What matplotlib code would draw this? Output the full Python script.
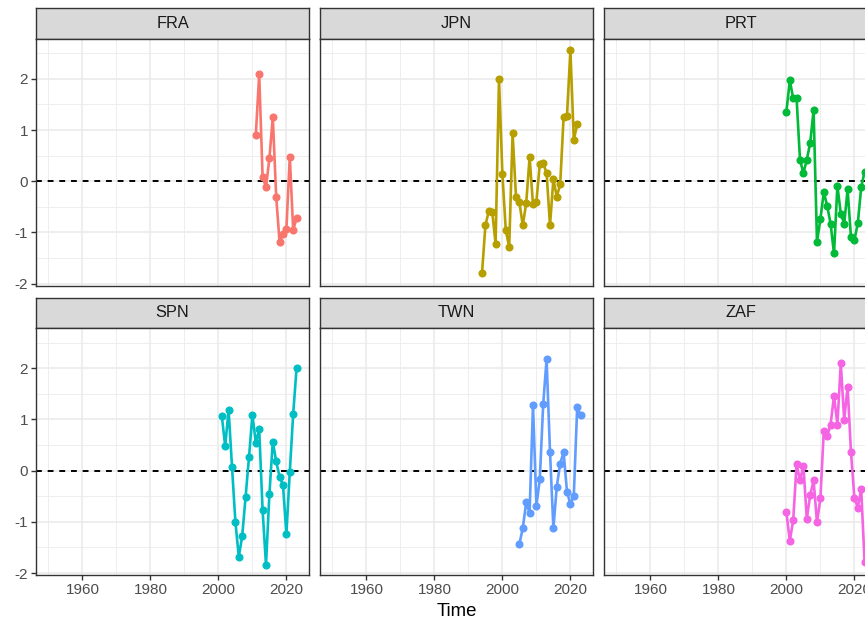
import matplotlib
matplotlib.use("Agg")
import matplotlib.pyplot as plt
from matplotlib.ticker import MultipleLocator

plt.rcParams["font.family"] = ["Liberation Sans", "DejaVu Sans"]
plt.rcParams["axes.unicode_minus"] = False

# facets, in the order they are drawn (3 per row)
countries = ["FRA", "JPN", "PRT", "SPN", "TWN", "ZAF"]
colors = ["#F8766D", "#B79F00", "#00BA38", "#00BFC4", "#619CFF", "#F564E3"]

fra_years = list(range(2011, 2024))
fra_values = [0.90, 2.09, 0.09, -0.12, 0.45, 1.25, -0.30, -1.19, -1.03, -0.93,
              0.48, -0.95, -0.72]

jpn_years = list(range(1994, 2023))
jpn_values = [-1.80, -0.86, -0.58, -0.59, -1.22, 1.99, 0.14, -0.96, -1.28, 0.94,
              -0.30, -0.41, -0.86, -0.43, 0.47, -0.45, -0.40, 0.34, 0.35, 0.16,
              -0.86, 0.04, -0.30, -0.06, 1.25, 1.28, 2.56, 0.81, 1.11]

prt_years = list(range(2000, 2024))
prt_values = [1.36, 1.97, 1.62, 1.62, 0.42, 0.16, 0.42, 0.75, 1.39, -1.18,
              -0.74, -0.21, -0.48, -0.83, -1.41, -0.09, -0.63, -0.83, -0.16, -1.09,
              -1.15, -0.82, -0.12, 0.19]

spn_years = list(range(2001, 2024))
spn_values = [1.07, 0.48, 1.19, 0.08, -1.00, -1.68, -1.28, -0.51, 0.26, 1.09,
              0.55, 0.81, -0.77, -1.84, -0.46, 0.57, 0.18, -0.12, -0.28, -1.24,
              -0.02, 1.11, 2.01]

twn_years = list(range(2005, 2024))
twn_values = [-1.43, -1.12, -0.62, -0.82, 1.28, -0.68, -0.17, 1.30, 2.18, 0.37,
              -1.12, -0.31, 0.14, 0.36, -0.41, -0.65, -0.49, 1.24, 1.08]

zaf_years = list(range(2000, 2024))
zaf_values = [-0.81, -1.37, -0.97, 0.13, -0.19, 0.10, -0.94, -0.48, -0.19, -1.01,
              -0.54, 0.78, 0.68, 0.90, 1.46, 0.90, 2.10, 0.99, 1.64, 0.36,
              -0.53, -0.72, -0.36, -1.79]

series = [(fra_years, fra_values), (jpn_years, jpn_values), (prt_years, prt_values),
          (spn_years, spn_values), (twn_years, twn_values), (zaf_years, zaf_values)]

x_ticks = [1960, 1980, 2000, 2020]
y_ticks = [-2, -1, 0, 1, 2]

# layout in pixels (the original figure is wider, third column is cut off)
W, H = 865, 624
col_left = [36, 320, 604]
panel_w = 273
strip_top = [8.3, 297.7]
strip_h = 30.4
panel_h = 247.3


def box(x0, y0, w, h):
    return [x0 / W, 1 - (y0 + h) / H, w / W, h / H]


fig = plt.figure(figsize=(W / 100, H / 100), dpi=100)

for i, (name, col, (xs, ys)) in enumerate(zip(countries, colors, series)):
    r, c = divmod(i, 3)
    x0 = col_left[c]
    y0 = strip_top[r]

    # strip
    sax = fig.add_axes(box(x0, y0, panel_w, strip_h))
    sax.set_facecolor("#D9D9D9")
    sax.set_xticks([])
    sax.set_yticks([])
    for sp in sax.spines.values():
        sp.set_color("#333333")
        sp.set_linewidth(1.0)
    sax.text(0.5, 0.5, name, ha="center", va="center", fontsize=11.8,
             color="#1A1A1A", transform=sax.transAxes)

    ax = fig.add_axes(box(x0, y0 + strip_h, panel_w, panel_h))
    ax.set_facecolor("white")
    ax.set_xlim(1946.35, 2026.65)
    ax.set_ylim(-2.045, 2.785)
    ax.set_xticks(x_ticks)
    ax.set_yticks(y_ticks)
    ax.xaxis.set_minor_locator(MultipleLocator(10))
    ax.yaxis.set_minor_locator(MultipleLocator(0.5))
    ax.grid(which="major", color="#EBEBEB", linewidth=1.2)
    ax.grid(which="minor", color="#EBEBEB", linewidth=0.6)
    ax.set_axisbelow(True)
    for sp in ax.spines.values():
        sp.set_color("#333333")
        sp.set_linewidth(1.0)
    ax.tick_params(which="minor", length=0)
    ax.tick_params(which="major", length=3.6, width=1.0, color="#333333",
                   labelsize=11, labelcolor="#4D4D4D", pad=2.2)
    if c != 0:
        ax.tick_params(axis="y", left=False, labelleft=False)
    if r == 0:
        ax.tick_params(axis="x", bottom=False, labelbottom=False)

    ax.axhline(0, color="black", linewidth=1.4, dashes=(3, 3), zorder=2)
    ax.plot(xs, ys, color=col, linewidth=1.9, marker="o", markersize=4.8,
            zorder=3)

fig.text(456.5 / W, 1 - 612 / H, "Time", ha="center", va="center",
         fontsize=13.4, color="black")

fig.savefig("out.png", dpi=100)
